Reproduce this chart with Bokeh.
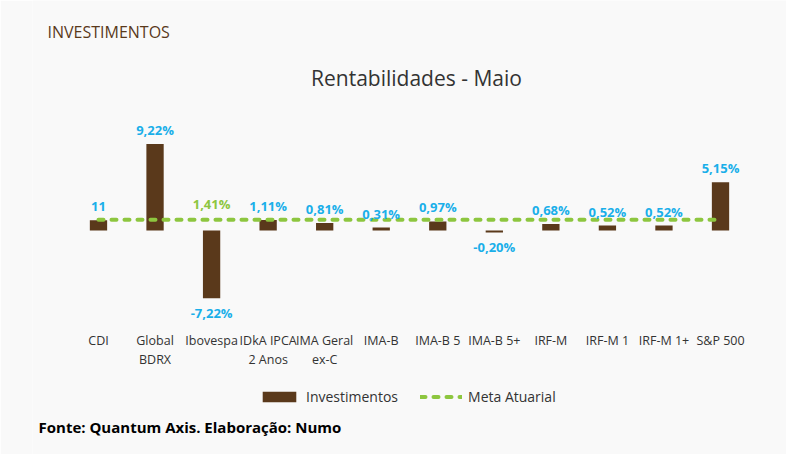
from bokeh.plotting import figure
from bokeh.models import ColumnDataSource, Range1d, FactorRange, Legend, LegendItem, LabelSet, Label
from bokeh.core.properties import value
from bokeh.embed import file_html
from bokeh.resources import INLINE

categories = ["CDI", "Global BDRX", "Ibovespa", "IDkA IPCA 2 Anos", "IMA Geral ex-C", "IMA-B",
              "IMA-B 5", "IMA-B 5+", "IRF-M", "IRF-M 1", "IRF-M 1+", "S&P 500"]
tick_labels = ["CDI", "Global\nBDRX", "Ibovespa", "IDkA IPCA\n2 Anos", "IMA Geral\nex-C", "IMA-B",
               "IMA-B 5", "IMA-B 5+", "IRF-M", "IRF-M 1", "IRF-M 1+", "S&P 500"]
investimentos = [1.10, 9.22, -7.22, 1.11, 0.81, 0.31, 0.97, -0.20, 0.68, 0.52, 0.52, 5.15]
value_labels = ["11", "9,22%", "-7,22%", "1,11%", "0,81%", "0,31%", "0,97%", "-0,20%",
                "0,68%", "0,52%", "0,52%", "5,15%"]
meta_atuarial = [1.14] * 12
meta_label = "1,41%"
meta_label_category = "Ibovespa"

BROWN = "#5a391b"
GREEN = "#8dc63f"
CYAN = "#1aafe9"
BG = "#f9f9f9"
FONT = "Open Sans"

x_range = FactorRange(factors=categories, range_padding=0.667, range_padding_units="absolute")
p = figure(x_range=x_range, y_range=Range1d(-23.88, 24.52), width=786, height=454,
           output_backend="svg", toolbar_location=None,
           min_border_left=32, min_border_right=0, min_border_top=0, min_border_bottom=0,
           background_fill_color=BG, border_fill_color=BG)
p.outline_line_color = None
p.grid.visible = False
p.xaxis.visible = False
p.yaxis.visible = False

src = ColumnDataSource(dict(x=categories, top=investimentos, lbl=value_labels,
                            off=[14 if v >= 0 else -15 for v in investimentos]))
bars = p.vbar(x="x", top="top", bottom=0, width=0.306, source=src, fill_color=BROWN, line_color=None)
line = p.line(x=categories, y=meta_atuarial, line_color=GREEN, line_width=4, line_dash="5 8",
              line_cap="round")

p.add_layout(LabelSet(x="x", y="top", text="lbl", y_offset="off", source=src, text_align="center",
                      text_baseline="middle", text_color=CYAN, text_font=value(FONT),
                      text_font_style="bold", text_font_size="13px"))
msrc = ColumnDataSource(dict(x=[meta_label_category],
                             y=[meta_atuarial[categories.index(meta_label_category)]],
                             t=[meta_label]))
p.add_layout(LabelSet(x="x", y="y", text="t", y_offset=16, source=msrc, text_align="center",
                      text_baseline="middle", text_color=GREEN, text_font=value(FONT),
                      text_font_style="bold", text_font_size="13px"))

# category labels drawn on the categorical scale, below the bars
p.text(x=categories, y=[-10.87] * len(categories), text=tick_labels, text_align="center",
       text_baseline="top", text_font=value(FONT), text_font_size="12.5px",
       text_color="#333333", text_line_height=1.1)

legend = Legend(items=[LegendItem(label="Investimentos", renderers=[bars]),
                       LegendItem(label="Meta Atuarial", renderers=[line])],
                orientation="horizontal", location=(226, 48),
                glyph_width=42, glyph_height=13, label_standoff=6, spacing=22,
                label_text_font=FONT, label_text_font_size="14px", label_text_color="#333333",
                background_fill_alpha=0, border_line_color=None, margin=0, padding=4)
p.add_layout(legend)

p.add_layout(Label(x=15, y=423, x_units="screen", y_units="screen", text="INVESTIMENTOS",
                   text_baseline="middle", text_font=FONT, text_font_size="16px", text_color=BROWN))
p.add_layout(Label(x=384, y=377, x_units="screen", y_units="screen", text="Rentabilidades - Maio",
                   text_align="center", text_baseline="middle", text_font=FONT,
                   text_font_size="21px", text_color="#333333"))
p.add_layout(Label(x=6, y=28, x_units="screen", y_units="screen",
                   text="Fonte: Quantum Axis. Elaboração: Numo", text_baseline="middle",
                   text_font=FONT, text_font_style="bold", text_font_size="15px",
                   text_color="#000000"))

open("out.html", "w").write(file_html(p, INLINE))
